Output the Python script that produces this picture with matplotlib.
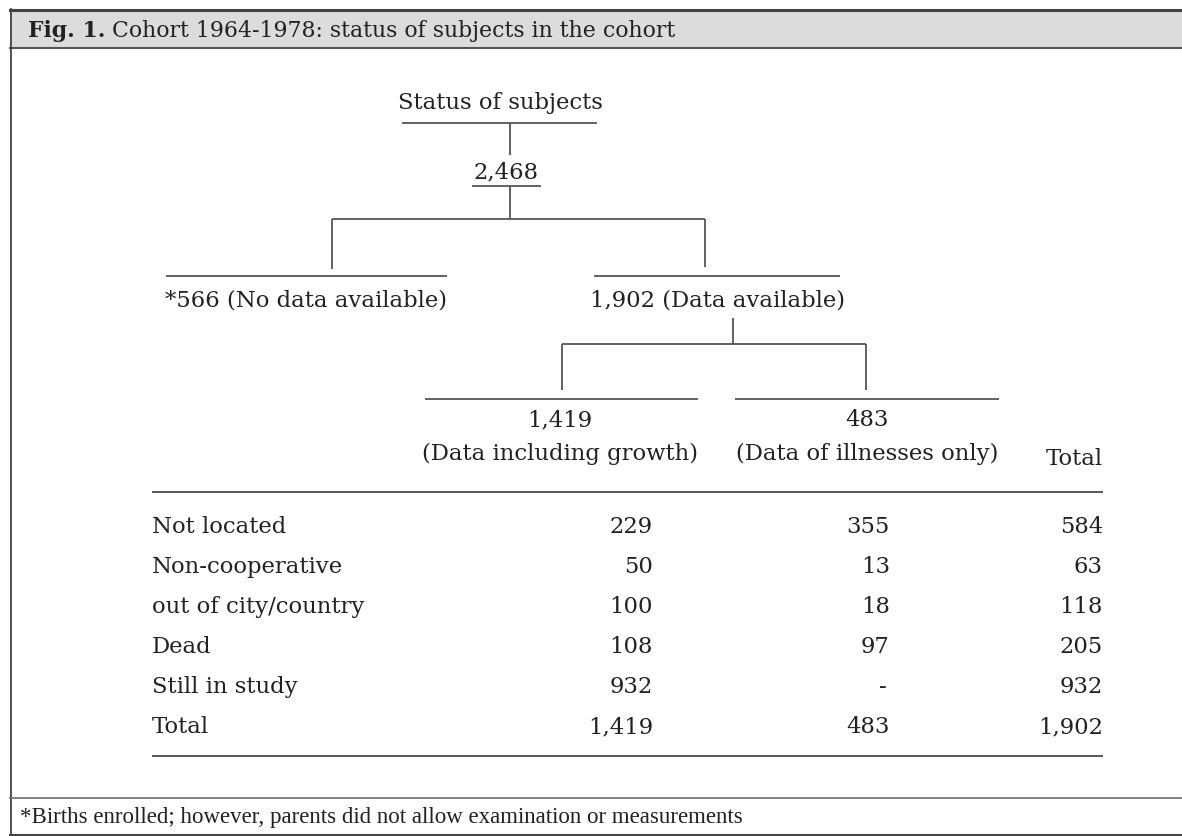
import matplotlib
matplotlib.use("Agg")
import matplotlib.pyplot as plt
from matplotlib.patches import Rectangle

# ---- data ----
title_bold = "Fig. 1."
title_rest = " Cohort 1964-1978: status of subjects in the cohort"
root_label = "Status of subjects"
root_total = "2,468"
no_data_label = "*566 (No data available)"
data_label = "1,902 (Data available)"
sub_counts = ["1,419", "483"]
sub_labels = ["(Data including growth)", "(Data of illnesses only)"]
total_header = "Total"
row_labels = ["Not located", "Non-cooperative", "out of city/country", "Dead", "Still in study", "Total"]
growth_vals = ["229", "50", "100", "108", "932", "1,419"]
illness_vals = ["355", "13", "18", "97", "-", "483"]
total_vals = ["584", "63", "118", "205", "932", "1,902"]
footnote = "*Births enrolled; however, parents did not allow examination or measurements"

W, H = 1182, 837
fig = plt.figure(figsize=(W / 100, H / 100), dpi=100)
ax = fig.add_axes([0, 0, 1, 1])
ax.set_xlim(0, W)
ax.set_ylim(H, 0)
ax.axis("off")

BODY = "DejaVu Serif"
FS = 16.4
LC = "#555555"
TC = "#222222"

# frame
ax.add_patch(Rectangle((10, 10), W, 39, facecolor="#dcdcdc", edgecolor="none"))
ax.plot([10, W], [10.5, 10.5], color="#444444", lw=2.2)
ax.plot([10, W], [49, 49], color="#555555", lw=1.5)
ax.plot([10.5, 10.5], [10, 836], color="#444444", lw=1.3)
ax.plot([10, W], [799, 799], color="#777777", lw=1.3)
ax.plot([10, W], [835.5, 835.5], color="#444444", lw=1.5)

# title
TFS = 15.8
t = ax.text(28, 31, title_bold, fontsize=TFS, fontweight="bold", family=BODY,
            color=TC, va="center", ha="left")
fig.canvas.draw()
bb = t.get_window_extent()
xd = ax.transData.inverted().transform((bb.x1, 0))[0]
ax.text(xd, 31, title_rest, fontsize=TFS, family=BODY, color=TC, va="center", ha="left")

def line(xs, ys, lw=1.3, c=LC):
    ax.plot(xs, ys, color=c, lw=lw, solid_capstyle="butt")

def txt(x, y, s, ha="center", **kw):
    ax.text(x, y, s, fontsize=FS, family=BODY, color=TC, ha=ha, va="center", **kw)

# tree
txt(500, 103, root_label)
line([402, 597], [124, 124])
line([510, 510], [124, 156])
txt(506, 172, root_total)
line([472, 541], [187, 187])
line([510, 510], [187, 220])
line([332, 705], [220, 220])
line([332, 332], [220, 270])
line([705, 705], [220, 268])
line([166, 447], [277, 277])
txt(306, 300, no_data_label)
line([594, 840], [277, 277])
txt(717, 300, data_label)
line([733, 733], [319, 345])
line([562, 866], [345, 345])
line([562, 562], [345, 391])
line([866, 866], [345, 391])
line([425, 698], [400, 400])
line([735, 999], [400, 400])
sub_x = [560, 867]
for x, c, l in zip(sub_x, sub_counts, sub_labels):
    txt(x, 420, c)
    txt(x, 454, l)
txt(1103, 459, total_header, ha="right")

# table
line([152, 1103], [493, 493], lw=1.4)
line([152, 1103], [757, 757], lw=1.4)
row_y0, row_dy = 527, 40
for i, (lab, a, b, c) in enumerate(zip(row_labels, growth_vals, illness_vals, total_vals)):
    y = row_y0 + i * row_dy
    txt(152, y, lab, ha="left")
    txt(653, y, a, ha="right")
    if b == "-":
        txt(883, y, b)
    else:
        txt(890, y, b, ha="right")
    txt(1103, y, c, ha="right")

# footnote
ax.text(20, 818, footnote, fontsize=16.5, family="Liberation Serif", color=TC,
        ha="left", va="center")

fig.savefig("out.png", dpi=100)
